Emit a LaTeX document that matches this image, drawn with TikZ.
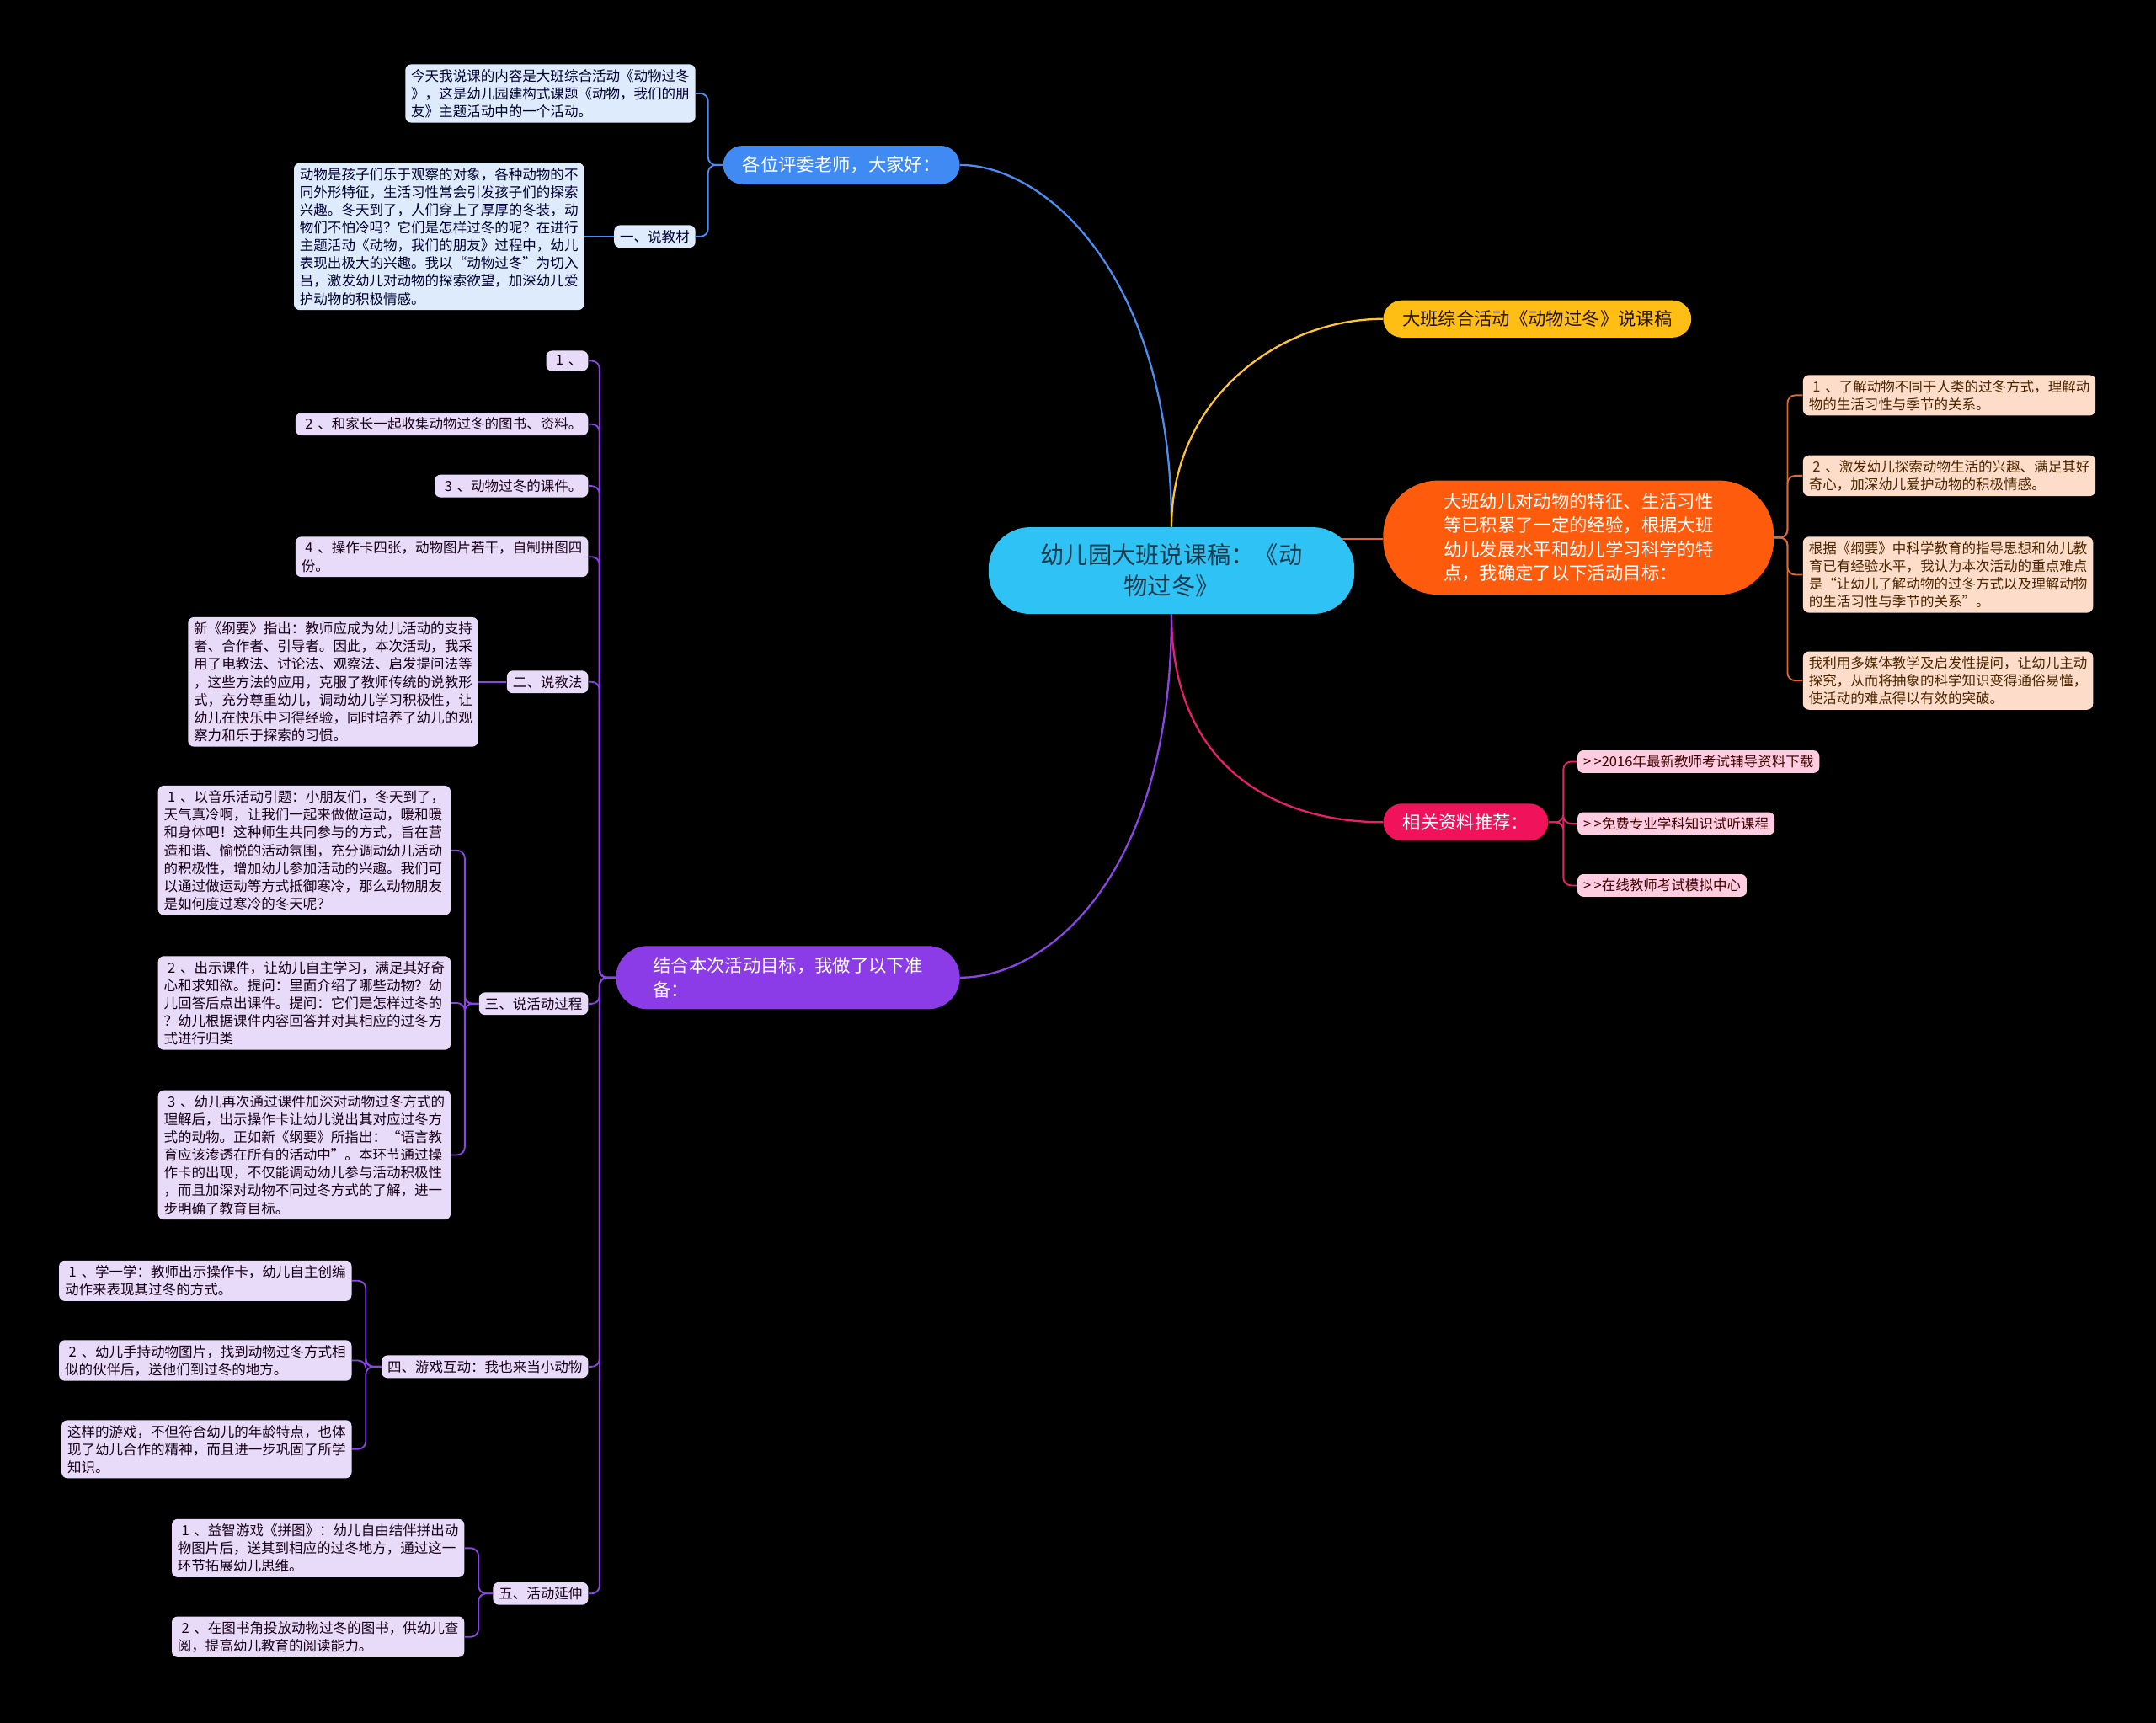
\documentclass[tikz,border=0pt]{standalone}
\usepackage{fontspec}
\setmainfont{Noto Sans CJK SC}
\usetikzlibrary{backgrounds}

% Farben
\definecolor{rootcyan}{HTML}{2EC3F4}
\definecolor{roottext}{HTML}{1C3A4E}
\definecolor{greetblue}{HTML}{3F8BF3}
\definecolor{titleyellow}{HTML}{FFBE14}
\definecolor{goalorange}{HTML}{FF5B0C}
\definecolor{resred}{HTML}{F0135C}
\definecolor{preppurple}{HTML}{8B3CE6}
\definecolor{leafblue}{HTML}{DDEBFC}
\definecolor{leafpeach}{HTML}{FDDCCA}
\definecolor{leafpink}{HTML}{FFCCE0}
\definecolor{leaflilac}{HTML}{E7DBF9}
\definecolor{lineblue}{HTML}{4A8EF2}
\definecolor{lineyellow}{HTML}{FFC52A}
\definecolor{lineorange}{HTML}{DC6A30}
\definecolor{linered}{HTML}{E8206A}
\definecolor{linepurple}{HTML}{8B45E6}

% Nummer mit Abstand
\newcommand{\nr}[1]{\hspace{2pt}#1\hspace{2.5pt}}
\newcommand{\gtgt}{>\hspace{1.5pt}>}

\tikzset{
  rootbox/.style={fill=rootcyan, text=roottext, rounded corners=0.75cm,
    minimum width=6.65cm, minimum height=1.575cm, align=center,
    font=\fontsize{12.3}{16.3}\selectfont},
  branchbox/.style={text=white, align=left, inner xsep=0pt,
    font=\fontsize{9.3}{12.4}\selectfont},
  leafbox/.style={rounded corners=3pt, inner xsep=3pt, inner ysep=2.5pt,
    align=left, font=\fontsize{7.2}{9.2}\selectfont},
  leafb/.style={leafbox, fill=leafblue, text=black!80!blue},
  leafo/.style={leafbox, fill=leafpeach, text=black!70!orange},
  leafr/.style={leafbox, fill=leafpink, text=black!75!red},
  leafp/.style={leafbox, fill=leaflilac, text=black!80!violet},
  mainlink/.style={line width=1pt},
  sublink/.style={line width=0.8pt, rounded corners=4pt},
}

\begin{document}
\begin{tikzpicture}[x=0.025cm, y=-0.025cm]

	% Rahmen
	\useasboundingbox (0,0) rectangle (1568,1253);

	% Wurzelknoten
	\node[rootbox] (root) at (852,415) {幼儿园大班说课稿：《动\\物过冬》};

	% Hauptaeste
	\node[branchbox, fill=greetblue, rounded corners=0.35cm, minimum width=4.3cm, minimum height=0.7cm] (greet) at (612,120) {各位评委老师，大家好：};
	\node[branchbox, fill=titleyellow, text=black!85!orange, rounded corners=0.34cm, minimum width=5.6cm, minimum height=0.675cm] (title) at (1118,232) {大班综合活动《动物过冬》说课稿};
	\node[branchbox, fill=goalorange, rounded corners=1cm, minimum width=7.1cm, minimum height=2.075cm] (goal) at (1148,391) {大班幼儿对动物的特征、生活习性\\等已积累了一定的经验，根据大班\\幼儿发展水平和幼儿学习科学的特\\点，我确定了以下活动目标：};
	\node[branchbox, fill=resred, rounded corners=0.34cm, minimum width=3cm, minimum height=0.675cm] (res) at (1066,598) {相关资料推荐：};
	\node[branchbox, fill=preppurple, rounded corners=0.575cm, minimum width=6.25cm, minimum height=1.15cm] (prep) at (573,711) {结合本次活动目标，我做了以下准\\备：};

	% Blaue Blaetter
	\node[leafb, anchor=east] (b1) at (506,68) {今天我说课的内容是大班综合活动《动物过冬\\》，这是幼儿园建构式课题《动物，我们的朋\\友》主题活动中的一个活动。};
	\node[leafb, anchor=east] (b2) at (506,172) {一、说教材};
	\node[leafb, anchor=east] (b3) at (425,172) {动物是孩子们乐于观察的对象，各种动物的不\\同外形特征，生活习性常会引发孩子们的探索\\兴趣。冬天到了，人们穿上了厚厚的冬装，动\\物们不怕冷吗？它们是怎样过冬的呢？在进行\\主题活动《动物，我们的朋友》过程中，幼儿\\表现出极大的兴趣。我以“动物过冬”为切入\\吕，激发幼儿对动物的探索欲望，加深幼儿爱\\护动物的积极情感。};

	% Orange Blaetter
	\node[leafo, anchor=west] (o1) at (1311,287.5) {\nr{1}、了解动物不同于人类的过冬方式，理解动\\物的生活习性与季节的关系。};
	\node[leafo, anchor=west] (o2) at (1311,346) {\nr{2}、激发幼儿探索动物生活的兴趣、满足其好\\奇心，加深幼儿爱护动物的积极情感。};
	\node[leafo, anchor=west] (o3) at (1311,418) {根据《纲要》中科学教育的指导思想和幼儿教\\育已有经验水平，我认为本次活动的重点难点\\是“让幼儿了解动物的过冬方式以及理解动物\\的生活习性与季节的关系”。};
	\node[leafo, anchor=west] (o4) at (1311,495) {我利用多媒体教学及启发性提问，让幼儿主动\\探究，从而将抽象的科学知识变得通俗易懂，\\使活动的难点得以有效的突破。};

	% Rote Blaetter
	\node[leafr, anchor=west] (r1) at (1147,554) {\gtgt 2016年最新教师考试辅导资料下载};
	\node[leafr, anchor=west] (r2) at (1147,599) {\gtgt 免费专业学科知识试听课程};
	\node[leafr, anchor=west] (r3) at (1147,644) {\gtgt 在线教师考试模拟中心};

	% Lila Blaetter
	\node[leafp, anchor=east] (p1) at (428,262.5) {\nr{1}、};
	\node[leafp, anchor=east] (p2) at (428,308.5) {\nr{2}、和家长一起收集动物过冬的图书、资料。};
	\node[leafp, anchor=east] (p3) at (428,353.5) {\nr{3}、动物过冬的课件。};
	\node[leafp, anchor=east] (p4) at (428,405) {\nr{4}、操作卡四张，动物图片若干，自制拼图四\\份。};
	\node[leafp, anchor=east] (p5) at (428,496) {二、说教法};
	\node[leafp, anchor=east] (p5a) at (348,496) {新《纲要》指出：教师应成为幼儿活动的支持\\者、合作者、引导者。因此，本次活动，我采\\用了电教法、讨论法、观察法、启发提问法等\\，这些方法的应用，克服了教师传统的说教形\\式，充分尊重幼儿，调动幼儿学习积极性，让\\幼儿在快乐中习得经验，同时培养了幼儿的观\\察力和乐于探索的习惯。};
	\node[leafp, anchor=east] (p6) at (428,730) {三、说活动过程};
	\node[leafp, anchor=east] (p6a) at (328,618.5) {\nr{1}、以音乐活动引题：小朋友们，冬天到了，\\天气真冷啊，让我们一起来做做运动，暖和暖\\和身体吧！这种师生共同参与的方式，旨在营\\造和谐、愉悦的活动氛围，充分调动幼儿活动\\的积极性，增加幼儿参加活动的兴趣。我们可\\以通过做运动等方式抵御寒冷，那么动物朋友\\是如何度过寒冷的冬天呢？};
	\node[leafp, anchor=east] (p6b) at (328,729.5) {\nr{2}、出示课件，让幼儿自主学习，满足其好奇\\心和求知欲。提问：里面介绍了哪些动物？幼\\儿回答后点出课件。提问：它们是怎样过冬的\\？幼儿根据课件内容回答并对其相应的过冬方\\式进行归类};
	\node[leafp, anchor=east] (p6c) at (328,840) {\nr{3}、幼儿再次通过课件加深对动物过冬方式的\\理解后，出示操作卡让幼儿说出其对应过冬方\\式的动物。正如新《纲要》所指出：“语言教\\育应该渗透在所有的活动中”。本环节通过操\\作卡的出现，不仅能调动幼儿参与活动积极性\\，而且加深对动物不同过冬方式的了解，进一\\步明确了教育目标。};
	\node[leafp, anchor=east] (p7) at (428,994) {四、游戏互动：我也来当小动物};
	\node[leafp, anchor=east] (p7a) at (256,931.5) {\nr{1}、学一学：教师出示操作卡，幼儿自主创编\\动作来表现其过冬的方式。};
	\node[leafp, anchor=east] (p7b) at (256,989.5) {\nr{2}、幼儿手持动物图片，找到动物过冬方式相\\似的伙伴后，送他们到过冬的地方。};
	\node[leafp, anchor=east] (p7c) at (256,1054) {这样的游戏，不但符合幼儿的年龄特点，也体\\现了幼儿合作的精神，而且进一步巩固了所学\\知识。};
	\node[leafp, anchor=east] (p8) at (428,1159) {五、活动延伸};
	\node[leafp, anchor=east] (p8a) at (338,1126) {\nr{1}、益智游戏《拼图》：幼儿自由结伴拼出动\\物图片后，送其到相应的过冬地方，通过这一\\环节拓展幼儿思维。};
	\node[leafp, anchor=east] (p8b) at (338,1190.5) {\nr{2}、在图书角投放动物过冬的图书，供幼儿查\\阅，提高幼儿教育的阅读能力。};

	% Verbindungen hinter den Knoten
	\begin{scope}[on background layer]
		\fill[black] (0,0) rectangle (1568,1253);

		% Hauptlinien
		\draw[mainlink, lineblue] (root.north) .. controls (852,200) and (760,120) .. (greet.east);
		\draw[mainlink, lineyellow] (root.north) .. controls (852,290) and (930,232) .. (title.west);
		\coordinate (ostart) at (960,392);
		\draw[mainlink, lineorange] (ostart) -- (goal.west |- ostart);
		\draw[mainlink, linered] (root.south) .. controls (852,560) and (930,598) .. (res.west);
		\draw[mainlink, linepurple] (root.south) .. controls (852,640) and (760,711) .. (prep.east);

		% Klammern
		\coordinate (bjoint) at (515,120);
		\foreach \n in {b1,b2}
			\draw[sublink, lineblue] (greet.west) -- (bjoint) |- (\n.east);
		\draw[sublink, lineblue] (b3.east) -- (b2.west);

		\coordinate (ojoint) at (1300,391);
		\foreach \n in {o1,o2,o3,o4}
			\draw[sublink, lineorange] (goal.east) -- (ojoint) |- (\n.west);

		\coordinate (rjoint) at (1137,598);
		\foreach \n in {r1,r2,r3}
			\draw[sublink, linered] (res.east) -- (rjoint) |- (\n.west);

		\coordinate (pjoint) at (436,711);
		\foreach \n in {p1,p2,p3,p4,p5,p6,p7,p8}
			\draw[sublink, linepurple] (prep.west) -- (pjoint) |- (\n.east);
		\draw[sublink, linepurple] (p5a.east) -- (p5.west);

		\coordinate (p6joint) at (338,730);
		\foreach \n in {p6a,p6b,p6c}
			\draw[sublink, linepurple] (p6.west) -- (p6joint) |- (\n.east);

		\coordinate (p7joint) at (266,994);
		\foreach \n in {p7a,p7b,p7c}
			\draw[sublink, linepurple] (p7.west) -- (p7joint) |- (\n.east);

		\coordinate (p8joint) at (348,1159);
		\foreach \n in {p8a,p8b}
			\draw[sublink, linepurple] (p8.west) -- (p8joint) |- (\n.east);
	\end{scope}

\end{tikzpicture}
\end{document}
